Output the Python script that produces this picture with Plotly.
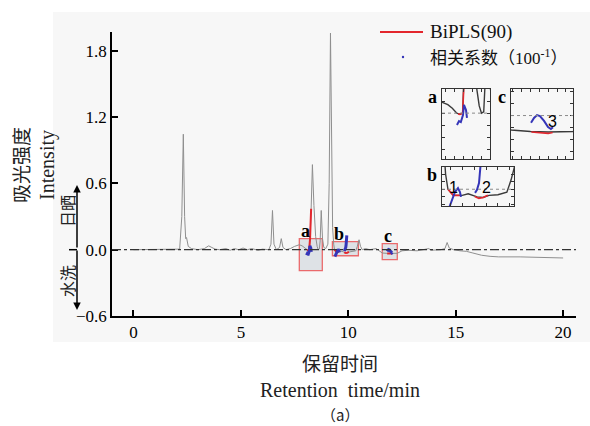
import plotly.graph_objects as go

# ---------------- data ----------------
TIME = [0.0, 1.0, 2.0, 2.15, 2.25, 2.32, 2.38, 2.43, 2.47, 2.55, 2.7, 3.0, 3.3, 3.5, 3.65, 3.8,
        4.0, 4.3, 4.5, 4.7, 4.9, 5.1, 5.3, 5.5, 5.8, 6.0, 6.3, 6.4, 6.47, 6.54, 6.65, 6.8,
        6.88, 6.96, 7.1, 7.3, 7.5, 7.72, 7.85, 7.95, 8.05, 8.12, 8.18, 8.22, 8.27, 8.33,
        8.40, 8.48, 8.55, 8.6, 8.65, 8.69, 8.74, 8.80, 8.86, 8.95, 9.05, 9.11, 9.17, 9.22,
        9.27, 9.32, 9.36, 9.45, 9.6, 9.7, 9.85, 9.95, 10.05, 10.2, 10.35, 10.42, 10.5,
        10.57, 10.65, 10.8, 11.0, 11.3, 11.5, 11.58, 11.8, 12.0, 12.28, 12.5, 12.8, 13.2,
        13.6, 13.75, 13.85, 14.0, 14.3, 14.5, 14.6, 14.7, 14.9, 15.2, 15.5, 15.8, 16.2,
        16.6, 17.0, 18.0, 19.0, 20.0]
INTENSITY = [0.0, 0.0, 0.0, 0.005, 0.3, 1.045, 0.3, 0.1, 0.11, 0.03, 0.01, 0.0, 0.01, 0.035,
             0.02, 0.005, 0.0, 0.01, -0.005, 0.01, 0.0, 0.015, 0.0, 0.01, -0.005, 0.005, 0.0,
             0.05, 0.355, 0.05, 0.0, 0.02, 0.10, 0.02, 0.0, 0.01, 0.03, 0.045, 0.035, 0.02,
             0.0, -0.005, 0.0, 0.1, 0.37, 0.77, 0.4, 0.12, 0.03, 0.0, 0.005, 0.08, 0.355, 0.1,
             0.02, 0.01, 0.05, 0.6, 1.96, 1.2, 0.2, 0.05, 0.0, -0.02, -0.02, -0.015, -0.025,
             -0.027, -0.02, -0.018, -0.01, 0.03, 0.09, 0.03, 0.0, 0.01, 0.0, 0.01, -0.015,
             -0.03, -0.033, -0.034, -0.033, -0.01, -0.005, -0.01, 0.0, 0.01, -0.005, -0.005,
             0.0, 0.01, 0.065, 0.015, 0.0, -0.01, -0.015, -0.03, -0.05, -0.06, -0.065,
             -0.065, -0.07, -0.075]

# BiPLS(90) selected intervals (red)
RED_TIME = [8.08, 8.12, 8.18, 8.22, 8.27, None,
            9.36, 9.45, 9.56, None,
            9.81, 9.88, 9.95, 10.03, None,
            11.81, 11.9, 12.0, 12.05]
RED_INT = [-0.003, -0.005, 0.0, 0.1, 0.37, None,
           0.0, -0.02, -0.02, None,
           -0.024, -0.03, -0.027, -0.02, None,
           -0.034, -0.036, -0.037, -0.035]

# correlation coefficient (x 1/100, blue)
BLUE_TIME = [8.054, 8.099, 8.14, 8.188, 8.21, 8.255, 8.277, None,
             9.378, 9.428, 9.478, 9.529, 9.562, 9.579, None,
             9.815, 9.848, 9.882, 9.899, 9.915, 9.93, None,
             11.806, 11.84, 11.874, 11.907, 11.953, 11.998, 12.03, 12.054]
BLUE_CORR = [-0.049, -0.033, -0.037, -0.008, 0.034, 0.013, -0.02, None,
             -0.062, -0.035, -0.009, 0.004, -0.009, -0.025, None,
             -0.012, -0.002, 0.020, 0.047, 0.08, 0.13, None,
             -0.015, -0.005, 0.001, -0.001, -0.011, -0.024, -0.028, -0.024]

# zoom regions [t0, t1, v0, v1]
BOX_A = [7.72, 8.79, -0.19, 0.10]
BOX_B = [9.26, 10.47, -0.055, 0.073]
BOX_C = [11.58, 12.28, -0.09, 0.055]
BOX_LABELS = ["a", "b", "c"]

X_TICKS = [0, 5, 10, 15, 20]
Y_TICKS = [-0.6, 0.0, 0.6, 1.2, 1.8]

# ---------------- styling ----------------
SERIF = "Liberation Serif, Noto Sans CJK SC"
CJK = "Noto Sans CJK SC"
BG = "#f7f7f7"
RED = "#e3262d"
BLUE = "#3535b8"

W, H = 590, 426
L, R, T, B = 112, 14, 32, 110
PW, PH = W - L - R, H - T - B


def px(x):
    return (x - L) / PW


def py(y):
    return (H - B - y) / PH


fig = go.Figure()

axes = [("x", "y"), ("x2", "y2"), ("x3", "y3"), ("x4", "y4")]
for i, (xa, ya) in enumerate(axes):
    main = i == 0
    fig.add_trace(go.Scatter(x=TIME, y=INTENSITY, mode="lines", xaxis=xa, yaxis=ya,
                             line=dict(color="#8f8f8f" if main else "#3a3a3a",
                                       width=1 if main else 1.4),
                             showlegend=False, hoverinfo="skip"))
    fig.add_trace(go.Scatter(x=RED_TIME, y=RED_INT, mode="lines", xaxis=xa, yaxis=ya,
                             line=dict(color=RED, width=2 if main else 1.6),
                             showlegend=False, hoverinfo="skip", connectgaps=False))
    fig.add_trace(go.Scatter(x=BLUE_TIME, y=BLUE_CORR, mode="lines", xaxis=xa, yaxis=ya,
                             line=dict(color=BLUE, width=3 if main else 2),
                             showlegend=False, hoverinfo="skip", connectgaps=False))

shapes = []
annotations = []


def text(x, y, s, family, size, color="#222", angle=0, xa="center", ya="middle"):
    annotations.append(dict(x=px(x), y=py(y), xref="paper", yref="paper", text=s,
                            showarrow=False, textangle=angle, xanchor=xa, yanchor=ya,
                            font=dict(family=family, size=size, color=color)))


# light gray panel behind everything
shapes.append(dict(type="rect", xref="paper", yref="paper", x0=px(53), x1=px(600),
                   y0=py(342), y1=py(12), fillcolor=BG, line=dict(width=0), layer="below"))

# main zero dash-dot line
shapes.append(dict(type="line", xref="paper", yref="y", x0=0, x1=1, y0=0, y1=0,
                   line=dict(color="#333333", width=1.2, dash="dashdot")))

# zoom boxes on main chart
for box, lab in zip([BOX_A, BOX_B, BOX_C], BOX_LABELS):
    shapes.append(dict(type="rect", xref="x", yref="y", x0=box[0], x1=box[1],
                       y0=box[2], y1=box[3], fillcolor="rgba(190,200,208,0.45)",
                       line=dict(color="#ea6a6c", width=1.3), layer="below"))
    annotations.append(dict(x=box[0], y=box[3], xref="x", yref="y", text="<b>%s</b>" % lab,
                            showarrow=False, xanchor="left", yanchor="bottom", yshift=-4,
                            font=dict(family=SERIF, size=18, color="black")))

# inset axes
inset_dom = {
    "2": ([px(442), px(490)], [py(159), py(89)], BOX_A, "a", 0.2, 0.05),
    "3": ([px(442), px(514)], [py(206), py(167)], BOX_B, "b", 0.2, 0.025),
    "4": ([px(511), px(573)], [py(159), py(89)], BOX_C, "c", 0.1, 0.025),
}
layout_axes = {}
for k, (xd, yd, box, lab, dx, dy) in inset_dom.items():
    common = dict(showline=True, linecolor="#333", linewidth=1, mirror="allticks",
                  ticks="inside", ticklen=3, tickcolor="#333", showticklabels=False,
                  showgrid=False, zeroline=False, fixedrange=True)
    layout_axes["xaxis" + k] = dict(domain=xd, range=[box[0], box[1]], anchor="y" + k,
                                    dtick=dx, **common)
    layout_axes["yaxis" + k] = dict(domain=yd, range=[box[2], box[3]], anchor="x" + k,
                                    dtick=dy, **common)
    shapes.append(dict(type="line", xref="x%s domain" % k, yref="y" + k, x0=0, x1=1,
                       y0=0, y1=0, line=dict(color="#8a8a8a", width=1, dash="dot")))
    annotations.append(dict(x=0, y=1, xref="x%s domain" % k, yref="y%s domain" % k,
                            text="<b>%s</b>" % lab, showarrow=False, xanchor="right",
                            yanchor="top", xshift=-3, yshift=4,
                            font=dict(family=SERIF, size=18, color="black")))

# number labels inside insets
for txt, xa, ya, xv, yv in [("1", "x3", "y3", 9.445, 0.007), ("2", "x3", "y3", 10.0, 0.007),
                             ("3", "x4", "y4", 12.043, -0.013)]:
    annotations.append(dict(x=xv, y=yv, xref=xa, yref=ya, text=txt, showarrow=False,
                            xanchor="center", yanchor="middle",
                            font=dict(family="Liberation Sans", size=16, color="black")))

# legend (manual)
shapes.append(dict(type="line", xref="paper", yref="paper", x0=px(380), x1=px(423),
                   y0=py(32), y1=py(32), line=dict(color=RED, width=2)))
shapes.append(dict(type="circle", xref="paper", yref="paper", x0=px(401.8), x1=px(404.2),
                   y0=py(58.2), y1=py(55.8), fillcolor=BLUE, line=dict(width=0)))
text(428, 32, "BiPLS(90)", SERIF, 19, "#111", xa="left")
text(428, 57, "相关系数（100<sup>-1</sup>）", SERIF, 17, "#111", xa="left")

# y titles
text(20, 165, "吸光强度", CJK, 19, angle=-90)
text(47, 165, "Intensity", SERIF, 20, angle=-90)

# sun-dried / washed arrow
annotations.append(dict(x=px(77), y=py(185), xref="paper", yref="paper", text="",
                        showarrow=True, ax=0, ay=64, arrowhead=2, arrowsize=1,
                        arrowwidth=1.5, arrowcolor="black"))
annotations.append(dict(x=px(77), y=py(310), xref="paper", yref="paper", text="",
                        showarrow=True, ax=0, ay=-61, arrowhead=2, arrowsize=1,
                        arrowwidth=1.5, arrowcolor="black"))
shapes.append(dict(type="line", xref="paper", yref="y", x0=px(69), x1=px(77), y0=0, y1=0,
                   line=dict(color="black", width=1.5)))
text(67, 211, "日晒", CJK, 16, angle=-90)
text(67, 281, "水洗", CJK, 16, angle=-90)

# x titles
text(340, 362, "保留时间", CJK, 19)
text(340, 390, "Retention\u00a0\u00a0time/min", SERIF, 20)
text(340, 414, "（a）", CJK, 15)

fig.update_layout(
    width=W, height=H,
    margin=dict(l=L, r=R, t=T, b=B, pad=0),
    paper_bgcolor="white",
    plot_bgcolor=BG,
    showlegend=False,
    xaxis=dict(range=[-1, 20.6], tickvals=X_TICKS, ticks="inside", ticklen=6, tickwidth=1.5,
               tickcolor="black", showline=True, linecolor="black", linewidth=1.5,
               showgrid=False, zeroline=False,
               tickfont=dict(family=SERIF, size=17, color="black")),
    yaxis=dict(range=[-0.6, 1.97], tickvals=Y_TICKS, tickformat=".1f", ticks="inside",
               ticklen=6, tickwidth=1.5, tickcolor="black", showline=True, linecolor="black",
               linewidth=1.5, showgrid=False, zeroline=False,
               tickfont=dict(family=SERIF, size=17, color="black")),
    shapes=shapes,
    annotations=annotations,
    **layout_axes,
)

fig.write_html("out.html")
